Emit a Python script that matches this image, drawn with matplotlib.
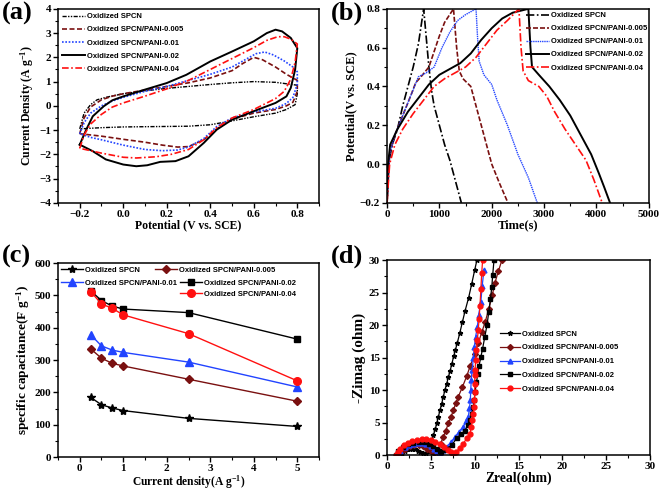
import numpy as np
import matplotlib
matplotlib.use('Agg')
import matplotlib.pyplot as plt
from matplotlib.lines import Line2D
from matplotlib.ticker import MultipleLocator

plt.rcParams['font.family'] = 'Liberation Serif'
plt.rcParams['font.weight'] = 'bold'
plt.rcParams['mathtext.default'] = 'regular'

labels = ['Oxidized SPCN', 'Oxidized SPCN/PANI-0.005', 'Oxidized SPCN/PANI-0.01',
          'Oxidized SPCN/PANI-0.02', 'Oxidized SPCN/PANI-0.04']
colors = ['black', '#7a1010', '#2244ff', 'black', '#ff1010']

# (a) CV loops: potential (V) / current density (A/g)
cv_v_spcn = [-0.2, -0.18, -0.15, -0.12, -0.08, 0.0, 0.1, 0.2, 0.3, 0.4, 0.5, 0.6, 0.7, 0.8,
             0.8, 0.79, 0.75, 0.7, 0.6, 0.5, 0.4, 0.3, 0.2, 0.1, 0.0, -0.1, -0.2]
cv_i_spcn = [-0.95, -0.3, 0.05, 0.25, 0.35, 0.5, 0.62, 0.72, 0.8, 0.88, 0.95, 1.0, 0.97, 0.85,
             0.5, 0.05, -0.15, -0.3, -0.45, -0.62, -0.78, -0.84, -0.85, -0.86, -0.87, -0.9, -0.95]
cv_v_005 = [-0.2, -0.18, -0.15, -0.1, -0.05, 0.0, 0.1, 0.2, 0.3, 0.4, 0.5, 0.55, 0.6, 0.64, 0.7, 0.75, 0.8,
            0.8, 0.78, 0.75, 0.7, 0.6, 0.5, 0.43, 0.37, 0.3, 0.25, 0.18, 0.1, 0.0, -0.1, -0.2]
cv_i_005 = [-1.15, -0.5, -0.05, 0.25, 0.4, 0.5, 0.65, 0.8, 0.95, 1.15, 1.45, 1.75, 2.0, 1.9, 1.6, 1.3, 1.05,
            0.6, 0.15, 0.0, -0.15, -0.3, -0.55, -0.95, -1.4, -1.68, -1.7, -1.62, -1.5, -1.38, -1.25, -1.15]
cv_v_01 = [-0.2, -0.18, -0.15, -0.1, -0.05, 0.0, 0.1, 0.2, 0.3, 0.4, 0.5, 0.56, 0.61, 0.65, 0.69, 0.74, 0.78, 0.8,
           0.8, 0.78, 0.75, 0.7, 0.6, 0.5, 0.43, 0.37, 0.3, 0.25, 0.18, 0.1, 0.0, -0.1, -0.15, -0.2]
cv_i_01 = [-1.15, -0.7, -0.3, 0.0, 0.2, 0.35, 0.6, 0.8, 1.05, 1.3, 1.6, 1.9, 2.15, 2.22, 2.1, 1.85, 1.6, 1.4,
           0.9, 0.35, 0.1, -0.1, -0.25, -0.5, -0.85, -1.35, -1.7, -1.82, -1.85, -1.8, -1.62, -1.4, -1.3, -1.15]
cv_v_02 = [-0.2, -0.17, -0.14, -0.09, -0.05, 0.0, 0.1, 0.2, 0.29, 0.4, 0.5, 0.6, 0.66, 0.7, 0.73, 0.77, 0.8,
           0.79, 0.77, 0.75, 0.7, 0.6, 0.5, 0.43, 0.37, 0.3, 0.24, 0.17, 0.11, 0.06, 0.0, -0.08, -0.14, -0.2]
cv_i_02 = [-1.6, -0.98, -0.43, -0.02, 0.23, 0.39, 0.67, 0.94, 1.28, 1.83, 2.24, 2.66, 3.0, 3.14, 3.07, 2.8, 2.38,
           1.49, 0.74, 0.39, 0.12, -0.22, -0.57, -0.98, -1.53, -2.08, -2.28, -2.31, -2.45, -2.49, -2.42, -2.21, -1.87, -1.6]
cv_v_04 = [-0.2, -0.18, -0.15, -0.1, -0.05, 0.0, 0.1, 0.2, 0.3, 0.4, 0.5, 0.6, 0.66, 0.71, 0.74, 0.77, 0.8,
           0.79, 0.77, 0.74, 0.7, 0.6, 0.5, 0.43, 0.37, 0.3, 0.22, 0.15, 0.06, 0.0, -0.1, -0.15, -0.2]
cv_i_04 = [-1.75, -1.2, -0.75, -0.35, -0.05, 0.12, 0.4, 0.7, 1.05, 1.5, 1.95, 2.4, 2.7, 2.85, 2.85, 2.75, 2.55,
           1.8, 1.1, 0.6, 0.3, -0.15, -0.5, -0.9, -1.4, -1.8, -2.0, -2.1, -2.15, -2.12, -1.95, -1.85, -1.75]

# (b) charge/discharge: time (s) / potential (V)
gcd_t_spcn = [0, 30, 100, 200, 300, 400, 500, 600, 700, 750, 800, 850, 900, 1000, 1100, 1200, 1300, 1420]
gcd_v_spcn = [-0.2, 0.0, 0.1, 0.18, 0.3, 0.4, 0.5, 0.62, 0.8, 0.65, 0.5, 0.38, 0.3, 0.2, 0.1, 0.02, -0.08, -0.2]
gcd_t_005 = [0, 50, 150, 300, 450, 550, 650, 800, 900, 1000, 1100, 1270,
             1330, 1380, 1450, 1600, 1700, 1800, 1900, 2000, 2150, 2310]
gcd_v_005 = [-0.2, 0.05, 0.15, 0.25, 0.35, 0.42, 0.45, 0.5, 0.58, 0.66, 0.73, 0.8,
             0.6, 0.48, 0.44, 0.4, 0.3, 0.2, 0.1, 0.0, -0.1, -0.2]
gcd_t_01 = [0, 50, 150, 300, 450, 600, 750, 900, 1050, 1200, 1350, 1500, 1700,
            1730, 1760, 1850, 2000, 2100, 2300, 2500, 2700, 2870]
gcd_v_01 = [-0.2, 0.05, 0.15, 0.25, 0.35, 0.45, 0.47, 0.5, 0.6, 0.68, 0.74, 0.77, 0.8,
            0.65, 0.53, 0.46, 0.41, 0.33, 0.2, 0.05, -0.07, -0.2]
gcd_t_02 = [0, 20, 60, 200, 400, 600, 800, 1000, 1200, 1400, 1600, 1800, 2000, 2200, 2400, 2700,
            2740, 2770, 2900, 3100, 3300, 3500, 3700, 3900, 4050, 4150, 4260]
gcd_v_02 = [-0.2, 0.0, 0.1, 0.18, 0.27, 0.34, 0.41, 0.46, 0.49, 0.52, 0.57, 0.64, 0.7, 0.75, 0.78, 0.8,
            0.6, 0.5, 0.46, 0.4, 0.33, 0.25, 0.15, 0.05, -0.05, -0.12, -0.2]
gcd_t_04 = [0, 50, 150, 300, 500, 700, 900, 1100, 1300, 1500, 1700, 1900, 2100, 2300, 2520,
            2560, 2600, 2700, 2900, 3050, 3200, 3400, 3600, 3800, 3950, 4110]
gcd_v_04 = [-0.2, 0.0, 0.1, 0.18, 0.26, 0.33, 0.4, 0.44, 0.47, 0.5, 0.55, 0.62, 0.69, 0.74, 0.8,
            0.6, 0.48, 0.43, 0.4, 0.35, 0.27, 0.18, 0.1, 0.02, -0.08, -0.2]

# (c) specific capacitance vs current density
cur_density = [0.25, 0.5, 0.75, 1, 2.5, 5]
cap_spcn = [185, 162, 152, 144, 120, 95]
cap_005 = [335, 306, 290, 282, 241, 173]
cap_01 = [379, 344, 331, 324, 294, 217]
cap_02 = [515, 484, 467, 458, 447, 365]
cap_04 = [512, 474, 460, 440, 382, 236]

# (d) Nyquist plots
zr_spcn = [1.5, 1.7, 2.0, 2.3, 2.6, 2.9, 3.2, 3.5, 3.8, 4.1, 4.4, 4.65, 4.9, 5.1, 5.3, 5.5, 5.67, 5.85, 6.04,
           6.23, 6.42, 6.6, 6.8, 7.0, 7.2, 7.4, 7.6, 7.8, 8.0, 8.3, 8.6, 8.9, 9.3, 9.65, 10.0, 10.25]
zi_spcn = [0.0, 0.4, 0.7, 0.9, 1.0, 1.0, 0.9, 0.7, 0.45, 0.3, 0.35, 0.7, 1.3, 2.2, 3.1, 4.0, 4.9, 5.9, 6.9,
           7.9, 9.0, 10.0, 11.0, 12.0, 13.0, 14.1, 15.2, 16.2, 17.2, 18.8, 20.5, 22.2, 24.2, 26.3, 28.5, 30.0]
zr_005 = [1.4, 1.7, 2.1, 2.6, 3.1, 3.6, 4.1, 4.6, 5.0, 5.4, 5.7, 5.85, 6.1, 6.42, 6.7, 7.0, 7.3, 7.56, 7.85,
          8.13, 8.6, 9.1, 9.5, 10.0, 10.4, 10.8, 11.2, 11.6, 12.0, 12.3, 12.7, 13.1]
zi_005 = [0.0, 0.6, 1.0, 1.35, 1.5, 1.5, 1.35, 1.0, 0.6, 0.35, 0.5, 0.8, 1.8, 2.8, 3.8, 4.9, 5.9, 6.9, 8.0,
          9.0, 10.5, 12.2, 13.8, 15.6, 17.2, 18.9, 20.5, 22.5, 24.6, 26.5, 28.3, 30.0]
zr_01 = [1.2, 1.5, 2.0, 2.5, 3.0, 3.5, 4.0, 4.5, 5.0, 5.4, 5.7, 6.0, 6.4, 6.8, 7.3, 7.75, 8.2, 8.7, 9.0, 9.27,
         9.4, 9.5, 9.55, 9.6, 9.7, 9.85, 9.96, 10.1, 10.3, 10.45, 10.7, 10.85, 11.05]
zi_01 = [0.0, 0.7, 1.2, 1.55, 1.75, 1.85, 1.85, 1.7, 1.4, 1.0, 0.6, 0.4, 0.8, 1.3, 2.0, 2.8, 3.6, 4.4, 5.2, 5.9,
         7.2, 8.5, 10.0, 11.5, 13.1, 14.9, 16.7, 18.2, 19.7, 21.6, 23.6, 26.0, 28.5]
zr_02 = [1.0, 1.3, 1.8, 2.4, 3.0, 3.6, 4.2, 4.8, 5.3, 5.7, 6.0, 6.2, 6.5, 6.8, 7.4, 7.95, 8.4, 8.9, 9.2, 9.46,
         9.65, 9.84, 9.95, 10.05, 10.2, 10.35, 10.5, 10.7, 10.9, 11.15, 11.4, 11.6, 11.8, 11.95, 12.05, 12.2]
zi_02 = [0.0, 0.7, 1.3, 1.7, 1.95, 2.05, 2.0, 1.8, 1.4, 0.9, 0.6, 0.55, 0.75, 1.0, 1.6, 2.6, 3.2, 3.8, 4.6, 5.4,
         6.4, 7.4, 8.5, 9.8, 11.2, 12.5, 13.8, 15.1, 16.4, 18.2, 20.0, 22.0, 24.1, 25.9, 27.7, 30.0]
zr_04 = [1.0, 1.2, 1.5, 1.9, 2.4, 2.9, 3.4, 3.95, 4.5, 5.0, 5.5, 6.0, 6.5, 6.9, 7.25, 7.56, 7.9, 8.3, 8.7, 9.1,
         9.46, 9.6, 9.73, 9.85, 9.92, 9.97, 10.0, 10.0, 10.02, 10.05, 10.1, 10.2, 10.3, 10.4, 10.5, 10.6, 10.7,
         10.8, 10.9]
zi_04 = [0.0, 0.5, 1.0, 1.5, 1.95, 2.2, 2.35, 2.45, 2.45, 2.35, 2.1, 1.75, 1.3, 0.85, 0.45, 0.2, 0.5, 1.1,
         1.8, 2.6, 3.3, 4.3, 5.4, 6.4, 7.4, 8.5, 9.7, 11.0, 12.3, 13.1, 14.6, 16.2, 17.7, 19.2, 21.0, 23.0,
         25.5, 28.0, 30.0]


def style_axes(ax, xlabel, ylabel, xsize, ysize):
    ax.set_xlabel(xlabel, fontsize=xsize, fontweight='bold', labelpad=0.5)
    ax.set_ylabel(ylabel, fontsize=ysize, fontweight='bold', labelpad=2)
    ax.tick_params(which='both', direction='out', top=False, right=False, labelsize=8, pad=1.5)
    ax.tick_params(which='major', length=3.5, width=1)
    ax.tick_params(which='minor', length=2, width=0.8)
    for lab in ax.get_xticklabels() + ax.get_yticklabels():
        lab.set_fontweight('bold')
    for sp in ax.spines.values():
        sp.set_linewidth(1.1)


def add_legend(ax, **kw):
    opts = dict(frameon=False, prop={'family': 'Liberation Sans', 'weight': 'bold', 'size': 5.5},
                handletextpad=0.3, borderaxespad=0.3)
    opts.update(kw)
    return ax.legend(**opts)


fig = plt.figure(figsize=(6.61, 4.9), dpi=100)

# ---- (a)
ax = fig.add_axes([0.0877, 0.586, 0.395, 0.396])
ax.plot(cv_v_spcn, cv_i_spcn, color=colors[0], lw=1, ls=(0, (3, 1, 1, 1, 1, 1)), label=labels[0])
ax.plot(cv_v_005, cv_i_005, color=colors[1], lw=1.2, ls=(0, (3, 1.5)), label=labels[1])
ax.plot(cv_v_01, cv_i_01, color=colors[2], lw=1.2, ls=(0, (1, 1)), label=labels[2])
ax.plot(cv_v_02, cv_i_02, color=colors[3], lw=1.4, ls='-', label=labels[3])
ax.plot(cv_v_04, cv_i_04, color=colors[4], lw=1.2, ls=(0, (4, 1.5, 1, 1.5)), label=labels[4])
ax.set_xlim(-0.3, 0.9)
ax.set_ylim(-4, 4)
ax.set_xticks([-0.2, 0.0, 0.2, 0.4, 0.6, 0.8])
ax.xaxis.set_minor_locator(MultipleLocator(0.1))
ax.yaxis.set_major_locator(MultipleLocator(1))
ax.yaxis.set_minor_locator(MultipleLocator(0.5))
style_axes(ax, 'Potential (V vs. SCE)', 'Current Density (A g$^{-1}$)', 8.5, 8.5)
add_legend(ax, loc='upper left', handlelength=3.0, labelspacing=0.75, borderaxespad=0.15)

# ---- (b)
ax = fig.add_axes([0.5855, 0.586, 0.396, 0.396])
ax.plot(gcd_t_spcn, gcd_v_spcn, color=colors[0], lw=1.2, ls=(0, (5, 1.5, 1, 1.5)), label=labels[0])
ax.plot(gcd_t_005, gcd_v_005, color=colors[1], lw=1.2, ls=(0, (3, 1.2)), label=labels[1])
ax.plot(gcd_t_01, gcd_v_01, color=colors[2], lw=1.0, ls=(0, (1, 0.6)), label=labels[2])
ax.plot(gcd_t_02, gcd_v_02, color=colors[3], lw=1.4, ls='-', label=labels[3])
ax.plot(gcd_t_04, gcd_v_04, color=colors[4], lw=1.2, ls=(0, (5, 1.5, 1, 1.5)), label=labels[4])
ax.set_xlim(0, 5000)
ax.set_ylim(-0.2, 0.8)
ax.xaxis.set_major_locator(MultipleLocator(1000))
ax.xaxis.set_minor_locator(MultipleLocator(500))
ax.yaxis.set_major_locator(MultipleLocator(0.2))
ax.yaxis.set_minor_locator(MultipleLocator(0.1))
style_axes(ax, 'Time(s)', 'Potential(V vs. SCE)', 9, 9)
add_legend(ax, loc='upper left', bbox_to_anchor=(0.52, 1.0), handlelength=3.0,
           labelspacing=0.75, borderaxespad=0.0)

# ---- (c)
ax = fig.add_axes([0.0877, 0.067, 0.395, 0.396])
lines_c = []
lines_c += ax.plot(cur_density, cap_spcn, color=colors[0], lw=1, marker='*', ms=6, label=labels[0])
lines_c += ax.plot(cur_density, cap_005, color=colors[1], lw=1, marker='D', ms=4.5, label=labels[1])
lines_c += ax.plot(cur_density, cap_01, color=colors[2], lw=1, marker='^', ms=5.5, label=labels[2])
lines_c += ax.plot(cur_density, cap_02, color=colors[3], lw=1, marker='s', ms=5, label=labels[3])
lines_c += ax.plot(cur_density, cap_04, color=colors[4], lw=1, marker='o', ms=5.5, label=labels[4])
ax.set_xlim(-0.5, 5.5)
ax.set_ylim(0, 600)
ax.xaxis.set_major_locator(MultipleLocator(1))
ax.xaxis.set_minor_locator(MultipleLocator(0.5))
ax.yaxis.set_major_locator(MultipleLocator(100))
ax.yaxis.set_minor_locator(MultipleLocator(50))
style_axes(ax, 'Current density(A g$^{-1}$)', 'specific capacitance(F g$^{-1}$)', 8.3, 9.5)
blank = Line2D([], [], color='none')
leg1 = add_legend(ax, handles=[lines_c[0], lines_c[1]], labels=[labels[0], labels[1]], ncol=2,
                  loc='upper left', bbox_to_anchor=(0.0, 1.0), handlelength=2.9,
                  columnspacing=1.9, borderaxespad=0.0)
ax.add_artist(leg1)
add_legend(ax, handles=[lines_c[2], blank, lines_c[3], lines_c[4]],
           labels=[labels[2], '', labels[3], labels[4]], ncol=2, loc='upper left',
           bbox_to_anchor=(0.0, 0.93), handlelength=2.9, labelspacing=0.45,
           columnspacing=0.3, borderaxespad=0.0)

# ---- (d)
ax = fig.add_axes([0.5855, 0.071, 0.398, 0.398])
ax.plot(zr_spcn, zi_spcn, color=colors[0], lw=0.9, marker='*', ms=3.5, label=labels[0])
ax.plot(zr_005, zi_005, color=colors[1], lw=0.9, marker='D', ms=3, label=labels[1])
ax.plot(zr_01, zi_01, color=colors[2], lw=0.9, marker='^', ms=3.5, label=labels[2])
ax.plot(zr_02, zi_02, color=colors[3], lw=0.9, marker='s', ms=3, label=labels[3])
ax.plot(zr_04, zi_04, color=colors[4], lw=0.9, marker='o', ms=3.5, label=labels[4])
ax.set_xlim(0, 30)
ax.set_ylim(0, 30)
ax.xaxis.set_major_locator(MultipleLocator(5))
ax.xaxis.set_minor_locator(MultipleLocator(2.5))
ax.yaxis.set_major_locator(MultipleLocator(5))
ax.yaxis.set_minor_locator(MultipleLocator(2.5))
style_axes(ax, 'Zreal(ohm)', '-Zimag (ohm)', 9.8, 11)
add_legend(ax, loc='center left', bbox_to_anchor=(0.41, 0.48), handlelength=2.6, labelspacing=0.85)

# panel letters
for x, y, s in [(0.003, 0.997, '(a)'), (0.5, 0.997, '(b)'), (0.003, 0.5, '(c)'), (0.5, 0.5, '(d)')]:
    fig.text(x, y, s, fontsize=19, fontweight='bold', va='top', ha='left')

fig.savefig('out.png', dpi=100)
